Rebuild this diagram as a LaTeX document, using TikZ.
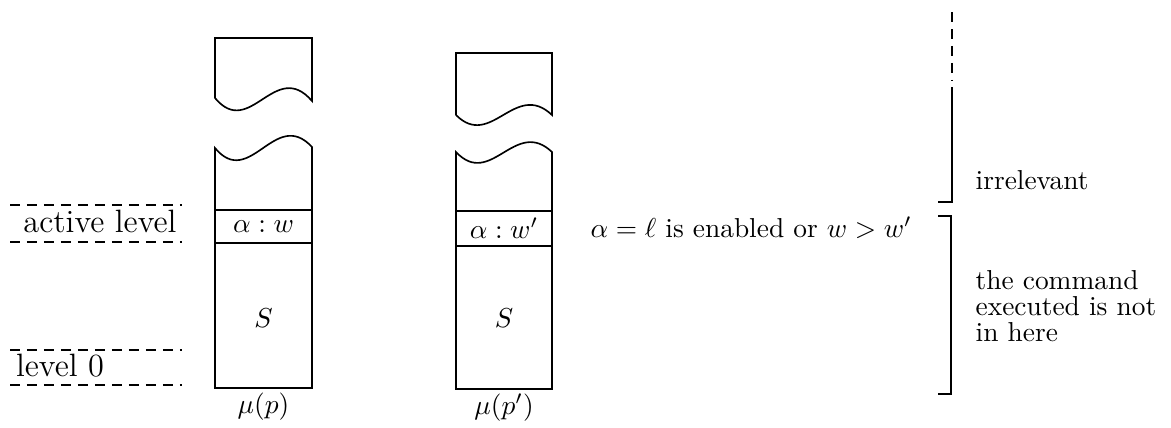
\documentclass[tikz,border=0pt]{standalone}
\usepackage{amsmath,amssymb}
\usetikzlibrary{positioning}

\tikzset{
  lvl/.style={dash pattern=on 3.6pt off 2.6pt},
  lvltext/.style={font=\fontsize{11.8}{14}\selectfont},
  stackline/.style={line width=0.6pt},
  brk/.style={line width=0.75pt},
}

\begin{document}
\begin{tikzpicture}[x=0.365pt,y=-0.365pt]
        \useasboundingbox (0,0) rectangle (1171,427);
        % Levels on the left
        \draw[lvl] (10,205) -- (182,205);
        \draw[lvl] (10,242) -- (182,242);
        \draw[lvl] (10,350) -- (182,350);
        \draw[lvl] (10,385) -- (182,385);
        \node[lvltext] (act) at (100,221) {active level};
        \node[lvltext] (lzero) at (60,366) {level 0};
        % Stack of p
        \draw[stackline] (215,98) -- (215,38) -- (312,38) -- (312,101)
            .. controls (275,58) and (250,140) .. (215,98);
        \draw[stackline] (215,148) .. controls (250,190) and (275,107) .. (312,147)
            -- (312,388) -- (215,388) -- cycle;
        \draw[stackline] (215,210) -- (312,210);
        \draw[stackline] (215,243) -- (312,243);
        \node (aw) at (263.5,226.5) {$\alpha : w$};
        \node (sp) at (263.5,318) {$S$};
        \node (mup) at (263.5,407) {$\mu(p)$};
        % Stack of p'
        \draw[stackline] (456,115) -- (456,53) -- (552,53) -- (552,115)
            .. controls (515,80) and (491,150) .. (456,115);
        \draw[stackline] (456,152) .. controls (491,189) and (515,117) .. (552,152)
            -- (552,389) -- (456,389) -- cycle;
        \draw[stackline] (456,211) -- (552,211);
        \draw[stackline] (456,246) -- (552,246);
        \node (awp) at (504,228.5) {$\alpha : w'$};
        \node (spp) at (504,318) {$S$};
        \node (mupp) at (504,408) {$\mu(p')$};
        % Condition
        \node[anchor=west] (cond) at (581,228) {$\alpha = \ell$ is enabled or $w > w'$};
        % Brackets on the right
        \draw[brk,lvl] (952,12) -- (952,80);
        \draw[brk] (952,87) -- (952,202) -- (938,202);
        \draw[brk] (938,216) -- (951,216) -- (951,394) -- (938,394);
        \node[anchor=west] (irr) at (966,180) {irrelevant};
        \node[anchor=west, align=left, font=\fontsize{10}{9.6}\selectfont] (cmd) at (966,306)
            {the command\\executed is not\\in here};
\end{tikzpicture}
\end{document}
